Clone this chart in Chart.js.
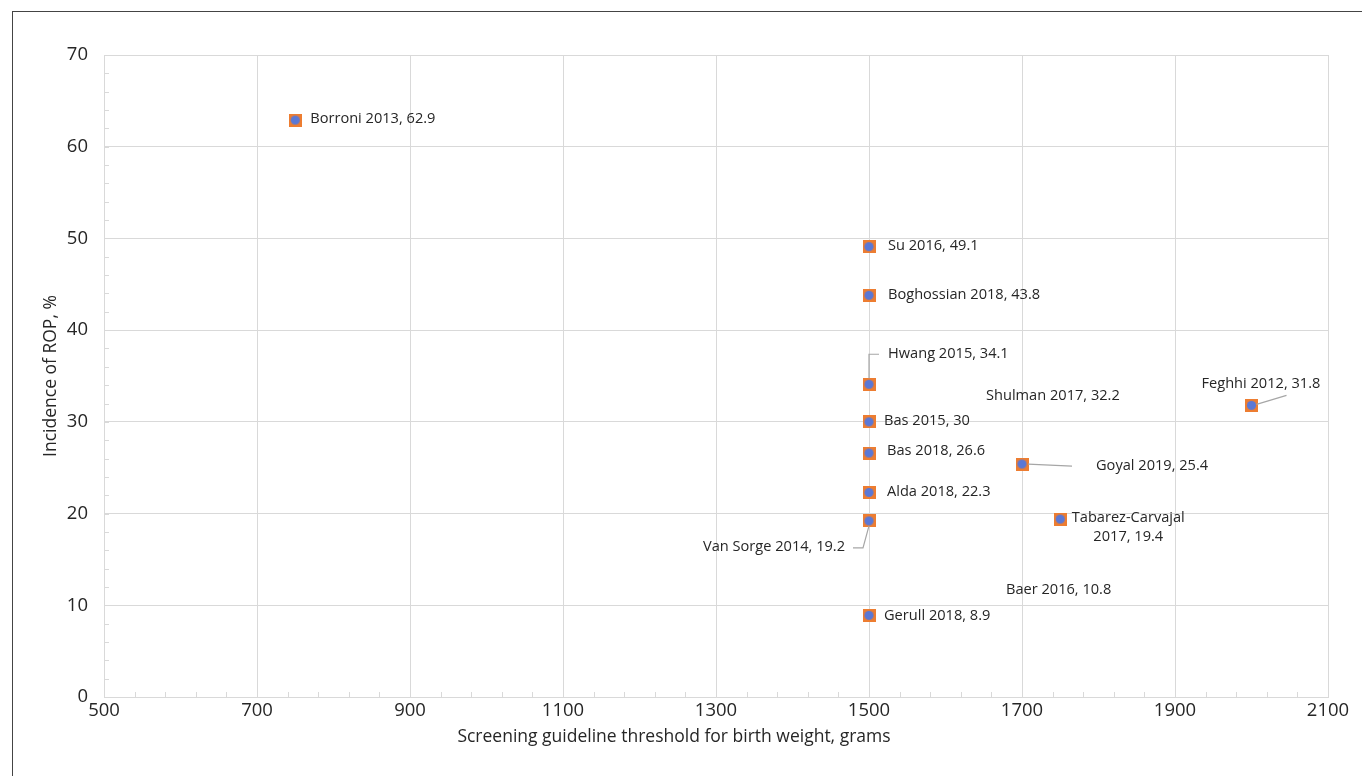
<!DOCTYPE html>
<html>
<head>
<meta charset="utf-8">
<script src="https://cdn.jsdelivr.net/npm/chart.js@4.4.1/dist/chart.umd.min.js"></script>
<style>
  html, body { margin: 0; padding: 0; background: #fff; }
  #wrap { position: relative; width: 1362px; height: 776px; overflow: hidden; }
  #frame { position: absolute; left: 12px; top: 11px; width: 1400px; height: 800px;
           border-left: 1px solid #444; border-top: 1px solid #444; pointer-events: none; }
  canvas { position: absolute; left: 0; top: 0; }
</style>
</head>
<body>
<div id="wrap">
  <canvas id="ropChart" width="1362" height="776"></canvas>
  <div id="frame"></div>
</div>
<script>
// studies
const studies = ["Borroni 2013", "Su 2016", "Boghossian 2018", "Hwang 2015", "Shulman 2017",
  "Bas 2015", "Bas 2018", "Goyal 2019", "Alda 2018", "Van Sorge 2014",
  "Tabarez-Carvajal 2017", "Feghhi 2012", "Baer 2016", "Gerull 2018"];
const thresholds = [750, 1500, 1500, 1500, 1500, 1500, 1500, 1700, 1500, 1500, 1750, 2000, 1500, 1500];
const incidence = [62.9, 49.1, 43.8, 34.1, 32.2, 30, 26.6, 25.4, 22.3, 19.2, 19.4, 31.8, 10.8, 8.9];
const markerShown = [true, true, true, true, false, true, true, true, true, true, true, true, false, true];

const xTicks = [500, 700, 900, 1100, 1300, 1500, 1700, 1900, 2100];
const yTicks = [0, 10, 20, 30, 40, 50, 60, 70];

const xTitle = "Screening guideline threshold for birth weight, grams";
const yTitle = "Incidence of ROP, %";

// label placement (pixel offsets from the marker)
const labelPos = [
  { dx: 15, dy: -1 },
  { dx: 19, dy: -1 },
  { dx: 19, dy: 0 },
  { dx: 19, dy: -30, line: [[0, -6], [0, -30], [10, -30]] },
  { dx: 117, dy: -6 },
  { dx: 15, dy: -1 },
  { dx: 18, dy: -2 },
  { dx: 74, dy: 2, line: [[6, 0], [50, 2]] },
  { dx: 18, dy: -1 },
  { dx: -24, dy: 26, align: "right", line: [[0, 5], [-6, 27], [-16, 27]] },
  { dx: 68, dy: -1, align: "center", split: true },
  { dx: -50, dy: -22, line: [[5, -1], [35, -10]] },
  { dx: 137, dy: -8 },
  { dx: 15, dy: 0 }
];

const FONT = "'Open Sans', 'Noto Sans', sans-serif";
const gridColor = "#d9d9d9";
const textColor = "#262626";

// marker: orange square with a blue dot
const marker = document.createElement("canvas");
marker.width = 13; marker.height = 13;
(function () {
  const c = marker.getContext("2d");
  c.fillStyle = "#ed7d31";
  c.fillRect(0, 0, 13, 13);
  c.fillStyle = "#5a78d6";
  c.beginPath();
  c.arc(6.5, 6.5, 4.6, 0, Math.PI * 2);
  c.fill();
})();

const points = thresholds.map((x, i) => ({ x: x, y: incidence[i] }));

const minorTicks = {
  id: "minorTicks",
  beforeDatasetsDraw(chart) {
    const { ctx, chartArea, scales } = chart;
    ctx.save();
    ctx.strokeStyle = gridColor;
    ctx.lineWidth = 1;
    ctx.beginPath();
    for (let v = 500; v <= 2100; v += 40) {
      const px = Math.round(scales.x.getPixelForValue(v)) + 0.5;
      ctx.moveTo(px, chartArea.bottom);
      ctx.lineTo(px, chartArea.bottom - 5);
    }
    for (let v = 0; v <= 70; v += 2) {
      const py = Math.round(scales.y.getPixelForValue(v)) + 0.5;
      ctx.moveTo(chartArea.left, py);
      ctx.lineTo(chartArea.left + 5, py);
    }
    ctx.stroke();
    ctx.restore();
  }
};

// axis titles (the x title sits left of the plot centre in the original)
const axisTitles = {
  id: "axisTitles",
  afterDraw(chart) {
    const { ctx, chartArea } = chart;
    ctx.save();
    ctx.font = "17.5px " + FONT;
    ctx.fillStyle = textColor;
    ctx.textAlign = "center";
    ctx.textBaseline = "middle";
    ctx.fillText(xTitle, 674, 737);
    ctx.translate(51, (chartArea.top + chartArea.bottom) / 2);
    ctx.rotate(-Math.PI / 2);
    ctx.fillText(yTitle, 0, 0);
    ctx.restore();
  }
};

const studyLabels = {
  id: "studyLabels",
  afterDatasetsDraw(chart) {
    const { ctx } = chart;
    const meta = chart.getDatasetMeta(0);
    ctx.save();
    ctx.font = "14.6px " + FONT;
    ctx.fillStyle = textColor;
    ctx.textBaseline = "middle";
    meta.data.forEach((pt, i) => {
      const p = labelPos[i];
      const text = studies[i] + ", " + incidence[i];
      if (p.line) {
        ctx.strokeStyle = "#a6a6a6";
        ctx.lineWidth = 1.2;
        ctx.beginPath();
        p.line.forEach((q, k) => {
          if (k === 0) ctx.moveTo(pt.x + q[0], pt.y + q[1]);
          else ctx.lineTo(pt.x + q[0], pt.y + q[1]);
        });
        ctx.stroke();
      }
      ctx.textAlign = p.align || "left";
      if (p.split) {
        const parts = studies[i].split(" ");
        ctx.fillText(parts[0], pt.x + p.dx, pt.y + p.dy);
        ctx.fillText(parts[1] + ", " + incidence[i], pt.x + p.dx, pt.y + p.dy + 19);
      } else {
        ctx.fillText(text, pt.x + p.dx, pt.y + p.dy);
      }
    });
    ctx.restore();
  }
};

new Chart(document.getElementById("ropChart"), {
  type: "scatter",
  data: {
    datasets: [{
      label: "ROP incidence",
      data: points,
      pointStyle: marker,
      pointRadius: markerShown.map(s => (s ? 6 : 0)),
      pointHoverRadius: 6
    }]
  },
  options: {
    responsive: false,
    animation: false,
    layout: { padding: { top: 55, right: 34, left: 0, bottom: 0 } },
    plugins: { legend: { display: false }, tooltip: { enabled: false } },
    scales: {
      x: {
        type: "linear",
        min: 500, max: 2100,
        afterBuildTicks: s => { s.ticks = xTicks.map(v => ({ value: v })); },
        afterFit: s => { s.height = 79; },
        grid: { color: gridColor, drawTicks: false },
        border: { color: gridColor },
        ticks: { padding: 3, color: textColor, font: { family: FONT, size: 18.5 },
                 callback: v => String(v) }
      },
      y: {
        type: "linear",
        min: 0, max: 70,
        afterBuildTicks: s => { s.ticks = yTicks.map(v => ({ value: v })); },
        afterFit: s => { s.width = 104; },
        grid: { color: gridColor, drawTicks: false },
        border: { color: gridColor },
        ticks: { padding: 16, color: textColor, font: { family: FONT, size: 18.5 },
                 callback: v => String(v) }
      }
    }
  },
  plugins: [minorTicks, axisTitles, studyLabels]
});
</script>
</body>
</html>
